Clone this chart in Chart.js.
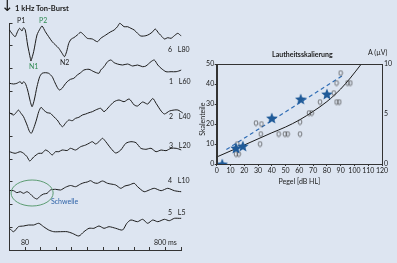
<!DOCTYPE html>
<html><head><meta charset="utf-8">
<script src="https://cdn.jsdelivr.net/npm/chart.js@4.4.1/dist/chart.umd.min.js"></script>
<style>
html,body{margin:0;padding:0;background:#dde5f1;width:397px;height:263px;overflow:hidden;position:relative}
canvas{position:absolute;left:0;top:0}
.t{position:absolute;font-family:Lato,'Open Sans',sans-serif;font-size:7px;color:#1a1a1a;white-space:nowrap;line-height:1}
.b{font-weight:bold}
.g{color:#2f8a52}
.w{word-spacing:4px}
</style></head><body>
<canvas id="erp" width="397" height="263"></canvas>
<canvas id="loud" width="397" height="263"></canvas>
<div class="t" style="left:1px;top:-1px;font-family:'DejaVu Sans';font-size:15px">↓</div>
<div class="t b" style="left:15px;top:5px;font-size:7.5px">1 kHz Ton-Burst</div>
<div class="t" style="left:17px;top:17px">P1</div>
<div class="t g" style="left:39px;top:17px">P2</div>
<div class="t g" style="left:29px;top:63px">N1</div>
<div class="t" style="left:60px;top:59px">N2</div>
<div class="t w" style="left:168px;top:46px">6 L80</div>
<div class="t w" style="left:169px;top:78px">1 L60</div>
<div class="t w" style="left:169px;top:113px">2 L40</div>
<div class="t w" style="left:169px;top:142px">3 L20</div>
<div class="t w" style="left:168px;top:177px">4 L10</div>
<div class="t w" style="left:168px;top:209px">5 L5</div>
<div class="t" style="left:51px;top:198px;color:#2e63a8">Schwelle</div>
<div class="t b" style="left:272px;top:51px">Lautheitsskalierung</div>
<div class="t" style="left:368px;top:49px">A (µV)</div>
<script>
// ---------- ERP traces (time in ms, amplitude relative to trace baseline) ----------
const traceNames = ['L80','L60','L40','L20','L10','L5'];
const tL80 = [0,12,29,41,52,64,72,81,93,107,110,124,141,158,167,184,201,219,236,253,270,282,293,304,317,330,348,365,382,399,425,451,468,494,520,537,554,566,588,606,623,640,657,674,700,717,735,748,766,783,795,812,829,846,864,881,898,915,932];
const aL80 = [8,4.7,1.3,6.3,9.7,7,10.3,8,-7,-20.3,-23,-13.7,3,9.7,12,6.3,1.3,-3.7,-7,-10.3,-15.3,-18.7,-13.7,-5.3,-1,0.3,3,5.7,3,-0.3,-1,-3.7,-0.3,3,6.3,8,11.3,14.7,11.3,11.3,9.7,8,4.7,2,2.3,3.7,6.3,9,4.7,1.3,-1,0.3,-0.3,2.3,4.7,2.3,5.7,3.7,6.3];
const tL60 = [0,21,38,55,64,72,81,93,107,116,127,141,155,167,184,201,219,231,245,256,270,282,296,313,330,348,365,382,408,433,459,468,485,503,520,537,554,580,606,632,657,683,700,726,743,761,778,803,829,855,881,898,924,932];
const aL60 = [-11.3,-12,-11.3,-9.7,-12,-9.7,-11.3,-18,-29.7,-34.7,-28,-14.7,-4.7,-1.3,-0.7,-1.3,-4.7,-9.7,-15.3,-18,-16.3,-13,-9.7,-7.3,-6.3,-3,-0.7,2,2.7,0.3,-1.3,2,5.3,10.3,12,9.3,8,7,8,6,7,5.3,6,10.3,12,7,3.7,0.3,0.3,0.3,2,5.3,7,6];
const tL40 = [0,21,38,46,59,72,90,103,112,124,138,150,162,175,193,210,227,245,262,273,287,304,322,339,356,374,391,408,425,442,468,485,511,537,562,588,614,640,657,683,709,735,752,778,795,821,845,864,889,906,932];
const aL40 = [-0.7,-3,0.3,2,-1.3,-4.7,-13,-19.7,-21.3,-16.3,-8,0.3,4.7,2,-0.7,-1.3,-4.7,-8,-13,-14.7,-11.3,-8,-8.7,-6.3,-5.3,-3,-2,-0.7,0.3,2,3.7,0.3,5.3,10.3,12,10.3,13,7,6,10,8,13.5,8.7,1,-2,1,2,2,-1,-3,-4];
const tL20 = [0,29,55,72,90,104,124,150,167,184,201,219,236,253,270,296,313,339,365,391,408,425,442,459,477,494,520,545,571,597,623,649,674,700,726,752,778,803,829,855,881,906,932];
const aL20 = [-1.7,-3.3,-1.7,-3.3,-6.7,-11,-7,-3.3,-3.3,0,-1.7,-5,-1.7,-1.7,0,-0.5,1.7,0,3.3,5,6.7,8.3,6,8.3,11.7,8.3,1.7,-3,0,6.7,8.3,7.3,1.7,0.7,1.7,-1.7,0,-0.7,1.7,1.7,0,-4,-6.5];
const tL10 = [0,21,38,55,72,90,107,124,141,158,175,193,210,236,262,287,313,339,365,382,399,416,433,451,477,503,520,545,571,592,614,640,657,691,717,743,778,812,846,881,915,932];
const aL10 = [-0.5,-0.7,-2.7,-1.7,-3.3,-1.7,-4,-7.3,-9,-6,-4,-3.3,0,0.7,0,2.7,4.5,3.3,6,7.3,8,9.3,7.3,6.7,9,6.7,6,5,1.7,4,5,6.7,3.3,-1.7,0,1.7,-0.7,1.7,-0.7,-1.7,-1.7,5];
const tL5 = [0,21,46,72,98,124,150,175,201,227,262,296,322,356,382,408,433,459,485,511,545,580,602,623,657,683,709,735,761,795,820,846,881,906,924,936];
const aL5 = [-2.3,-5.7,-0.7,0,1,1,2.7,-0.7,-4,-5.7,-5.7,-5.7,-7.3,-10,-5.7,-2.3,-2.3,0,-2.3,-0.7,-2.3,-4,2.7,6,4.3,6.7,2.7,6,4.3,6.7,5.3,7.7,7.7,9.3,4.3,-0.7];
const xTickLabels = {80:'80', 800:'800 ms'};

// ---------- Loudness scaling ----------
const starLevel = [4,14,19,40,61,80];
const starScale = [0,8,9,23,32.5,35];
const circLevel = [90,87,95,97,85,75,87,89,67,69,28.5,32.5,60.5,32,45,49.5,51.5,60.5,31.5,15,14,16];
const circScale = [45.5,40.5,40.5,40.5,35.5,31,31,31,25.5,25.5,20.5,20,21,15,15,15,15,15,10,10,5,5];
const fitLevel = [0,20,40,50,60,70,80,90,97,105];
const fitScale = [3.5,9.5,15.6,18.5,22,26.3,31.2,37.5,43,50];
const dashLevel = [7,92];
const dashScale = [7.2,44.5];

const FONT = 'Lato';
const INK = '#1a1a1a';
const zeroPad = s => { s.paddingLeft = s.paddingRight = s.paddingTop = s.paddingBottom = 0; };

// trace layout (vertical offsets of the stacked traces)
const traceOffsets = [212,178,138,100,60,24];
const traceData = [[tL80,aL80],[tL60,aL60],[tL40,aL40],[tL20,aL20],[tL10,aL10],[tL5,aL5]];
const schwelle = {t:116, v:57, rt:108, rv:13};

new Chart(document.getElementById('erp'), {
  type:'line',
  data:{datasets: traceData.map(([t,a],i)=>({
    label: traceNames[i],
    data: t.map((x,j)=>({x, y:a[j]+traceOffsets[i]})),
    borderColor:'#1b1b1b', borderWidth:1, pointRadius:0, tension:0.25, fill:false, clip:false
  }))},
  options:{
    responsive:false, animation:false, devicePixelRatio:1,
    layout:{padding:{left:8.5, right:216, top:23, bottom:12}},
    plugins:{legend:{display:false}, tooltip:{enabled:false}},
    scales:{
      x:{type:'linear', min:0, max:880,
        ticks:{stepSize:80, autoSkip:false, maxRotation:0, mirror:true, padding:3, color:INK, font:{family:FONT,size:7},
               callback:v=>xTickLabels[v] ?? ''},
        grid:{drawOnChartArea:false, drawTicks:true, tickLength:-3, color:'#333', lineWidth:1},
        border:{display:true, color:'#333', width:1},
        afterFit:s=>{s.height=1; zeroPad(s);} },
      y:{type:'linear', min:0, max:227,
        ticks:{display:false, stepSize:22.7},
        grid:{drawOnChartArea:false, drawTicks:true, tickLength:-3, color:'#333', lineWidth:1},
        border:{display:true, color:'#333', width:1},
        afterFit:s=>{s.width=1; zeroPad(s);} }
    }
  },
  plugins:[{id:'schwelle', afterDatasetsDraw(chart){
    const {ctx, scales:{x,y}} = chart;
    const cx = x.getPixelForValue(schwelle.t), cy = y.getPixelForValue(schwelle.v);
    const rx = x.getPixelForValue(schwelle.t+schwelle.rt)-cx;
    const ry = cy - y.getPixelForValue(schwelle.v+schwelle.rv);
    ctx.save(); ctx.beginPath(); ctx.ellipse(cx,cy,rx,ry,0,0,2*Math.PI);
    ctx.strokeStyle='#5c9c72'; ctx.lineWidth=1; ctx.stroke(); ctx.restore();
  }}]
});

function starImg(size,color){
  const c=document.createElement('canvas'); c.width=c.height=size;
  const g=c.getContext('2d'); g.fillStyle=color; g.beginPath();
  const cx=size/2, cy=size/2+0.6, R=size/2, r=R*0.45;
  for(let k=0;k<10;k++){const ang=-Math.PI/2+k*Math.PI/5; const rad=k%2?r:R; g.lineTo(cx+rad*Math.cos(ang), cy+rad*Math.sin(ang));}
  g.closePath(); g.fill(); return c;
}
function ovalImg(){
  const c=document.createElement('canvas'); c.width=6; c.height=7;
  const g=c.getContext('2d'); g.strokeStyle='#444'; g.lineWidth=0.7;
  g.beginPath(); g.ellipse(3,3.5,1.8,2.5,0,0,2*Math.PI); g.stroke(); return c;
}
const pts = (xs,ys)=>xs.map((x,i)=>({x,y:ys[i]}));

new Chart(document.getElementById('loud'), {
  type:'scatter',
  data:{datasets:[
    {label:'Skalierung (Stern)', data:pts(starLevel,starScale), pointStyle:starImg(12,'#1f5a98'), pointRadius:6},
    {label:'Skalierung', data:pts(circLevel,circScale), pointStyle:ovalImg(), pointRadius:3},
    {label:'Regression', data:pts(dashLevel,dashScale), showLine:true, borderColor:'#2f6db5', borderWidth:1.2, borderDash:[4,3], pointRadius:0},
    {label:'Anpassung', data:pts(fitLevel,fitScale), showLine:true, borderColor:'#1a1a1a', borderWidth:1, pointRadius:0, tension:0.4, cubicInterpolationMode:'monotone', clip:false}
  ]},
  options:{
    responsive:false, animation:false, devicePixelRatio:1,
    layout:{padding:{left:199.7, right:0, top:64, bottom:75}},
    plugins:{legend:{display:false}, tooltip:{enabled:false}},
    scales:{
      x:{type:'linear', min:0, max:120,
        ticks:{stepSize:10, padding:1, maxRotation:0, autoSkip:false, color:INK, font:{family:FONT,size:7}},
        grid:{drawOnChartArea:false, tickLength:2, color:'#333'},
        border:{display:true, color:'#333'},
        title:{display:true, text:'Pegel [dB HL]', color:INK, font:{family:FONT,size:7,lineHeight:1.2}, padding:{top:0,bottom:2}},
        afterFit:s=>{s.height=24; zeroPad(s);} },
      y:{type:'linear', position:'left', min:0, max:50,
        ticks:{stepSize:5, padding:0.5, color:INK, font:{family:FONT,size:7}},
        grid:{drawOnChartArea:false, tickLength:2, color:'#333'},
        border:{display:true, color:'#333'},
        title:{display:true, text:'Skalenteile\u2003\u2003', color:INK, font:{family:FONT,size:7,lineHeight:1}, padding:0},
        afterFit:s=>{s.width=17; zeroPad(s);} },
      y2:{type:'linear', position:'right', min:0, max:10,
        ticks:{stepSize:5, padding:2, color:INK, font:{family:FONT,size:7}},
        grid:{display:true, drawOnChartArea:false, drawTicks:false},
        border:{display:true, color:'#333'},
        afterFit:s=>{s.width=15; zeroPad(s);} }
    }
  },
  plugins:[{id:'frame', afterDraw(chart){
    const {ctx, chartArea:a} = chart;
    ctx.save(); ctx.strokeStyle='#333'; ctx.lineWidth=1;
    ctx.strokeRect(Math.round(a.left)+0.5, Math.round(a.top)+0.5, Math.round(a.right-a.left), Math.round(a.bottom-a.top));
    ctx.restore();
  }}]
});
</script>
</body></html>
